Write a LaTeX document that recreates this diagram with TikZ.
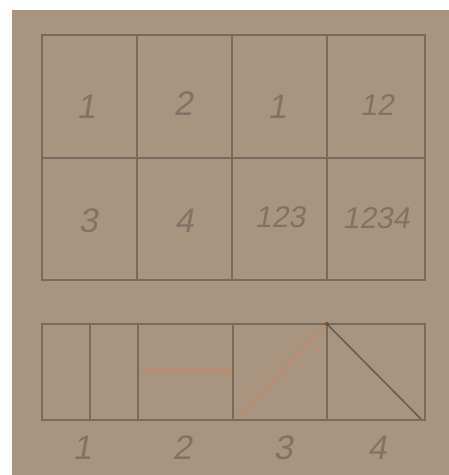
\documentclass[tikz,border=0pt]{standalone}
\usepackage{fontspec}
\setmainfont{Liberation Sans}
\newfontfamily\handfont[FakeSlant=0.18]{Liberation Sans}
\definecolor{paper}{RGB}{168,148,127}
\definecolor{pencil}{RGB}{120,106,94}
\definecolor{redpencil}{RGB}{196,136,100}
\definecolor{ink}{RGB}{130,114,100}
\tikzset{
  gridline/.style={draw=pencil, line width=1.1pt},
  redline/.style={draw=redpencil, line width=1.4pt},
  darkline/.style={draw=pencil!85!black, line width=1.5pt},
  digit/.style={text=ink, font=\handfont\fontsize{34}{34}\selectfont, inner sep=0pt},
  smalldigit/.style={text=ink, font=\handfont\fontsize{30}{30}\selectfont, inner sep=0pt},
}
\begin{document}
\begin{tikzpicture}[x=1pt,y=-1pt]
\useasboundingbox (0,0) rectangle (449,475);
\fill[white] (0,0) rectangle (449,475);
\fill[paper] (12,10) rectangle (449,475);
% top grid
\draw[gridline] (42,35) rectangle (425,280);
\draw[gridline] (42,158) -- (425,158);
\draw[gridline] (137,35) -- (137,280);
\draw[gridline] (232,35) -- (232,280);
\draw[gridline] (327,35) -- (327,280);
% labels top grid
\node[digit] (a1) at (86,107) {1};
\node[digit] (a2) at (183,104) {2};
\node[digit] (a3) at (277,107) {1};
\node[smalldigit] (a4) at (377,105) {12};
\node[digit] (b1) at (88,221) {3};
\node[digit] (b2) at (184,221) {4};
\node[smalldigit] (b3) at (280,217) {123};
\node[smalldigit] (b4) at (376,218) {1234};
% bottom strip
\draw[gridline] (42,324) rectangle (425,420);
\draw[gridline] (138,324) -- (138,420);
\draw[gridline] (233,324) -- (233,420);
\draw[gridline] (327,324) -- (327,420);
\draw[gridline] (90,324) -- (90,420);
\coordinate (h1) at (140,371);
\coordinate (h2) at (231,371);
\draw[redline] (h1) -- (h2);
\coordinate (p3a) at (234,419);
\coordinate (apex) at (327,324);
\coordinate (p4b) at (421,419);
\draw[redline] (p3a) -- (apex);
\draw[darkline] (apex) -- (p4b);
\fill[pencil!80!black] (apex) circle (2pt);
% labels below
\node[digit] (c1) at (82,448) {1};
\node[digit] (c2) at (182,448) {2};
\node[digit] (c3) at (283,448) {3};
\node[digit] (c4) at (377,448) {4};
\end{tikzpicture}
\end{document}
